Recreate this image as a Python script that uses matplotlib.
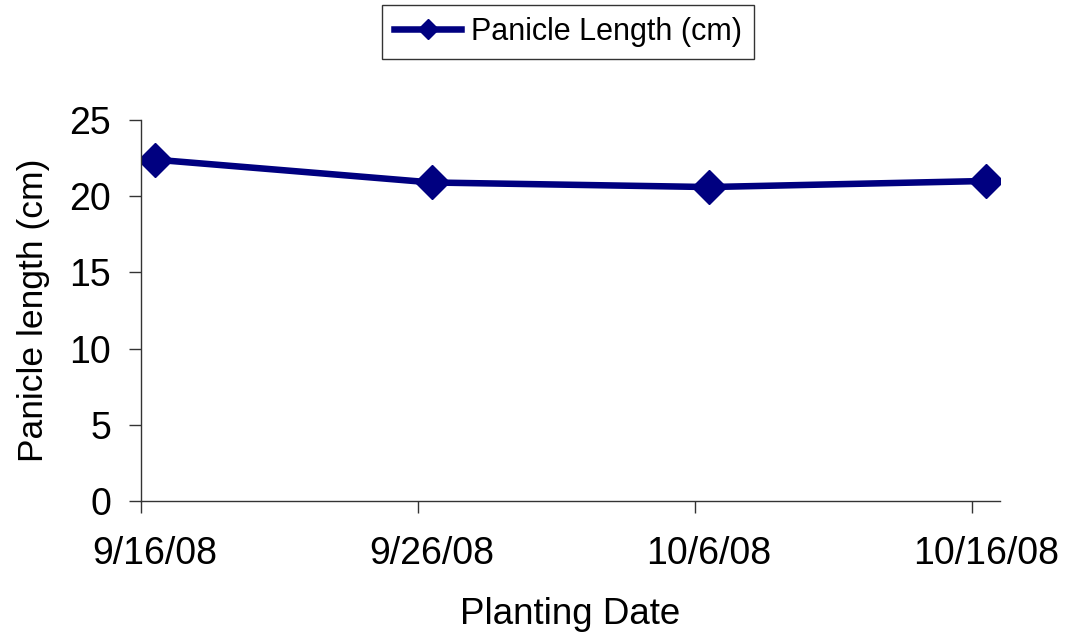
import datetime as dt
import matplotlib
matplotlib.use("Agg")
import matplotlib.pyplot as plt

# Planting dates and mean panicle length
planting_dates = ["2008-09-16", "2008-09-26", "2008-10-06", "2008-10-16"]
panicle_length = [22.4, 20.9, 20.6, 21.0]
tick_dates = ["2008-09-16", "2008-09-26", "2008-10-06", "2008-10-16"]
tick_labels = ["9/16/08", "9/26/08", "10/6/08", "10/16/08"]

plt.rcParams['font.family'] = ['Liberation Sans', 'DejaVu Sans']

# points (and date labels) sit in the middle of each day on the date axis
half_day = dt.timedelta(hours=12)
dates = [dt.datetime.fromisoformat(d) + half_day for d in planting_dates]
ticks = [dt.datetime.fromisoformat(d) for d in tick_dates]
label_pos = [t + half_day for t in ticks]

fig = plt.figure(figsize=(10.67, 6.4), dpi=100)
ax = fig.add_axes([141 / 1067, 1 - 501 / 640, (1000 - 141) / 1067, (501 - 120) / 640])

ax.plot(dates, panicle_length, color='#000080', linewidth=4.7, marker='D',
        markersize=17, label='Panicle Length (cm)')

ax.set_xlim(dt.datetime(2008, 9, 16), dt.datetime(2008, 10, 17))
ax.set_ylim(0, 25)
ax.set_yticks([0, 5, 10, 15, 20, 25])
ax.set_xticks(ticks)
ax.set_xticklabels([])
ax.set_xticks(label_pos, minor=True)
ax.set_xticklabels(tick_labels, minor=True)

for s in ['top', 'right']:
    ax.spines[s].set_visible(False)
for s in ['left', 'bottom']:
    ax.spines[s].set_color('#333333')
    ax.spines[s].set_linewidth(1.0)
ax.tick_params(axis='both', direction='out', length=8.5, width=1.0, color='#333333',
               labelsize=27)
ax.tick_params(axis='y', pad=13)
ax.tick_params(axis='x', which='minor', length=0, pad=25.5, labelsize=27)

ax.set_xlabel('Planting Date', fontsize=26.5, labelpad=18)
ax.set_ylabel('Panicle length (cm)', fontsize=25.5, labelpad=14)

leg = ax.legend(loc='upper center', bbox_to_anchor=(0.497, 1.302), borderaxespad=0,
                fontsize=22, frameon=True, fancybox=False, edgecolor='black',
                handlelength=2.2, handletextpad=0.3, borderpad=0.4, markerscale=0.62)
leg.get_frame().set_linewidth(1.0)

fig.savefig('out.png', dpi=100)
